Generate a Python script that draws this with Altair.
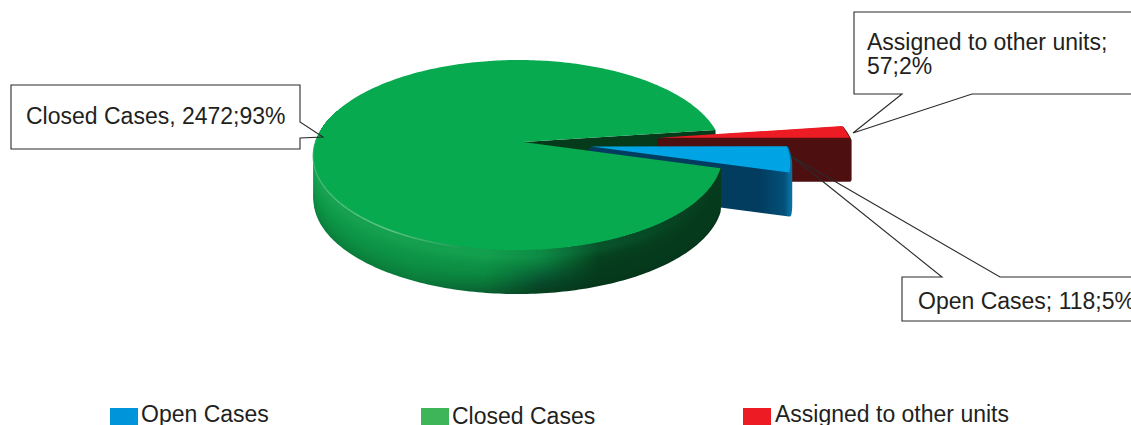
import math
import altair as alt

# Case counts shown in the pie
categories = ["Open Cases", "Closed Cases", "Assigned to other units"]
values = [118, 2472, 57]
percents = [5, 93, 2]

# Slice styling and how far each slice is pulled out of the pie
top_colors = ["#00a4e4", "#07aa4f", "#ed1c24"]
wall_colors = ["#023d60", "#053a1b", "#4e0f10"]
legend_colors = ["#0095da", "#3fb55a", "#ed1c24"]
explode = [0.34, 0.0, 0.69]

# Tilted-disc projection of the pie plane onto the canvas
CX, CY, RX, RY = 523.0, 142.0, 202.5, 93.2
K_V, K_U = 0.137, 0.024
DEPTH = 44.0


def project(u, v, drop=0.0):
    w = 1 + K_V * v + K_U * u
    return [CX + RX * u / w, CY - RY * v / w + drop]


def arc(a0, a1, du=0.0, dv=0.0, drop=0.0, step=1.0):
    n = max(2, int(abs(a1 - a0) / step) + 1)
    pts = []
    for i in range(n + 1):
        a = math.radians(a0 + (a1 - a0) * i / n)
        pts.append(project(math.cos(a) + du, math.sin(a) + dv, drop))
    return pts


def feature(kind, coords):
    return {"type": "Feature", "properties": {}, "geometry": {"type": kind, "coordinates": coords}}


def ring(pts):
    return pts + [pts[0]]


def convex_hull(points):
    pts = sorted(map(tuple, points))

    def half(seq):
        out = []
        for p in seq:
            while len(out) > 1 and (out[-1][0] - out[-2][0]) * (p[1] - out[-2][1]) - (out[-1][1] - out[-2][1]) * (p[0] - out[-2][0]) <= 0:
                out.pop()
            out.append(p)
        return out[:-1]

    return [list(p) for p in half(pts) + half(pts[::-1])]


def prism(a0, a1, du, dv, inset, depth):
    """Outline of a narrow slice swept straight down, from inset to depth below its top."""
    top = [project(du, dv)] + arc(a0, a1, du, dv)
    swept = [[x, y + inset] for x, y in top] + [[x, y + depth] for x, y in top]
    return feature("Polygon", [ring(convex_hull(swept))])


def mix(c1, c2, t):
    a = [int(c1[i:i + 2], 16) for i in (1, 3, 5)]
    b = [int(c2[i:i + 2], 16) for i in (1, 3, 5)]
    return "#%02x%02x%02x" % tuple(round(x + (y - x) * t) for x, y in zip(a, b))


# Slice angles come straight from the counts, clockwise from the 3 o'clock direction
total = sum(values)
angles = []
start = 0.0
for v in values:
    end = start - v / total * 360
    angles.append((start, end))
    start = end

offsets = []
for (a0, a1), e in zip(angles, explode):
    mid = math.radians((a0 + a1) / 2)
    offsets.append((e * math.cos(mid), e * math.sin(mid)))


def gradient(stops, horizontal=True):
    return alt.LinearGradient(
        gradient="linear",
        x1=0, y1=0, x2=1 if horizontal else 0, y2=0 if horizontal else 1,
        stops=[alt.GradientStop(offset=o, color=c) for o, c in stops],
    )


def shape(features, **style):
    return (
        alt.Chart(alt.Data(values=features))
        .mark_geoshape(**style)
        .project(type="identity", scale=1, translate=[0, 0])
    )


layers = []

# Inner wall of the closed slice, seen through the gap left by the other two
g0, g1 = angles[1]
wall_end = arc(g1, g1 + 0.01)[-1]
wall = ring([project(0, 0), wall_end, [wall_end[0], wall_end[1] + DEPTH], [CX, CY + DEPTH]])
layers.append(shape([feature("Polygon", [wall])], fill=wall_colors[1], strokeWidth=0))

# Pulled-out slices, rear one first; a round-joined stroke softens the wall corners
for idx in (2, 0):
    a0, a1 = angles[idx]
    du, dv = offsets[idx]
    if idx == 0:
        wall_fill = gradient([(0, wall_colors[0]), (0.85, wall_colors[0]), (0.97, "#03507a"), (1, "#0a6f9e")])
    else:
        wall_fill = wall_colors[idx]
    layers.append(
        shape([prism(a0, a1, du, dv, 2.5, DEPTH - 2)], fill=wall_fill, stroke=wall_fill,
              strokeWidth=4, strokeJoin="round")
    )
    layers.append(shape([feature("Polygon", [ring([project(du, dv)] + arc(a0, a1, du, dv))])], fill=top_colors[idx], strokeWidth=0))

# Rim of the closed slice: nested bands, darker towards the floor
rim_keys = [
    (44, ["#0a7f3c", "#0a7a39", "#0a6031", "#073f1f", "#05361b", "#05361b"]),
    (36, ["#0b8b41", "#0b8640", "#0a7638", "#07482a", "#053a1c", "#053a1c"]),
    (26, ["#0c9647", "#0c9045", "#0b8a41", "#086035", "#053c1d", "#053a1c"]),
    (16, ["#109c4b", "#0f9849", "#0e9347", "#0a7a3c", "#06431f", "#053a1c"]),
    (8, ["#16a250", "#14a04f", "#13a04e", "#0d8a45", "#08532b", "#053a1c"]),
]
rim_offsets = [0, 0.25, 0.42, 0.56, 0.7, 1]
rim_rows = []
for (d0, s0), (d1, s1) in zip(rim_keys, rim_keys[1:]):
    for i in range(4):
        t = i / 4
        rim_rows.append((d0 + (d1 - d0) * t, [mix(a, b, t) for a, b in zip(s0, s1)]))
rim_rows.append(rim_keys[-1])

for depth, shades in rim_rows:
    upper = arc(g0, -200)
    lower = arc(g0, -200, drop=depth)
    band = ring(upper + lower[::-1])
    layers.append(shape([feature("Polygon", [band])], fill=gradient(list(zip(rim_offsets, shades))), strokeWidth=0))

# Light bevel along the front-left edge of the rim
bevel = [[x, y + 0.8] for x, y in arc(-105, -183)]
layers.append(
    shape([feature("LineString", bevel)], filled=False, strokeWidth=1.8,
          stroke=gradient([(0, "#45b872"), (0.5, "#5cc486"), (1, "#1d9c55")]))
)

# Top surface of the closed slice
layers.append(shape([feature("Polygon", [ring([project(0, 0)] + arc(g0, g1))])], fill=top_colors[1], strokeWidth=0))

# Callout outlines with their pointers
closed_box = [[11, 85], [300, 85], [300, 122], [323, 137], [300, 138], [300, 149], [11, 149]]
assigned_box = [[854, 12], [1145, 12], [1145, 94], [972, 94], [853, 133], [902, 94], [854, 94]]
open_box = [[902, 277], [942, 277], [791, 156], [1000, 277], [1145, 277], [1145, 321], [902, 321]]
layers.append(
    shape([feature("Polygon", [ring(b)]) for b in (closed_box, assigned_box, open_box)],
          filled=False, stroke="#2a2a2a", strokeWidth=1.1)
)

# Callout and legend text, placed in canvas pixels
callout_rows = [
    {"x": 26, "y": 124, "label": f"{categories[1]}, {values[1]};{percents[1]}%"},
    {"x": 867, "y": 50, "label": f"{categories[2]};"},
    {"x": 867, "y": 74, "label": f"{values[2]};{percents[2]}%"},
    {"x": 918, "y": 309, "label": f"{categories[0]}; {values[0]};{percents[0]}%"},
]
legend_rows = [
    {"x": 141, "y": 422, "label": categories[0], "sx": 110, "sy": 408, "c": legend_colors[0]},
    {"x": 452, "y": 424, "label": categories[1], "sx": 421, "sy": 408, "c": legend_colors[1]},
    {"x": 775, "y": 422, "label": categories[2], "sx": 743, "sy": 408, "c": legend_colors[2]},
]
for row in legend_rows:
    row["sx2"] = row["sx"] + 28
    row["sy2"] = row["sy"] + 17

text_x = alt.X("x:Q", scale=None, axis=None)
text_y = alt.Y("y:Q", scale=None, axis=None)
layers.append(
    alt.Chart(alt.Data(values=callout_rows))
    .mark_text(align="left", baseline="alphabetic", font="Liberation Sans", fontSize=23, color="#231f20")
    .encode(x=text_x, y=text_y, text="label:N")
)
layers.append(
    alt.Chart(alt.Data(values=legend_rows))
    .mark_rect()
    .encode(
        x=alt.X("sx:Q", scale=None, axis=None), x2="sx2:Q",
        y=alt.Y("sy:Q", scale=None, axis=None), y2="sy2:Q",
        color=alt.Color("c:N", scale=None, legend=None),
    )
)
layers.append(
    alt.Chart(alt.Data(values=legend_rows))
    .mark_text(align="left", baseline="alphabetic", font="Liberation Sans", fontSize=23, color="#231f20")
    .encode(x=text_x, y=text_y, text="label:N")
)

chart = (
    alt.layer(*layers)
    .properties(width=1131, height=425, padding=0, autosize=alt.AutoSizeParams(type="none"), background="white")
    .configure_view(stroke=None)
)

chart.save("out.html", embed_options={"renderer": "svg", "actions": False})
